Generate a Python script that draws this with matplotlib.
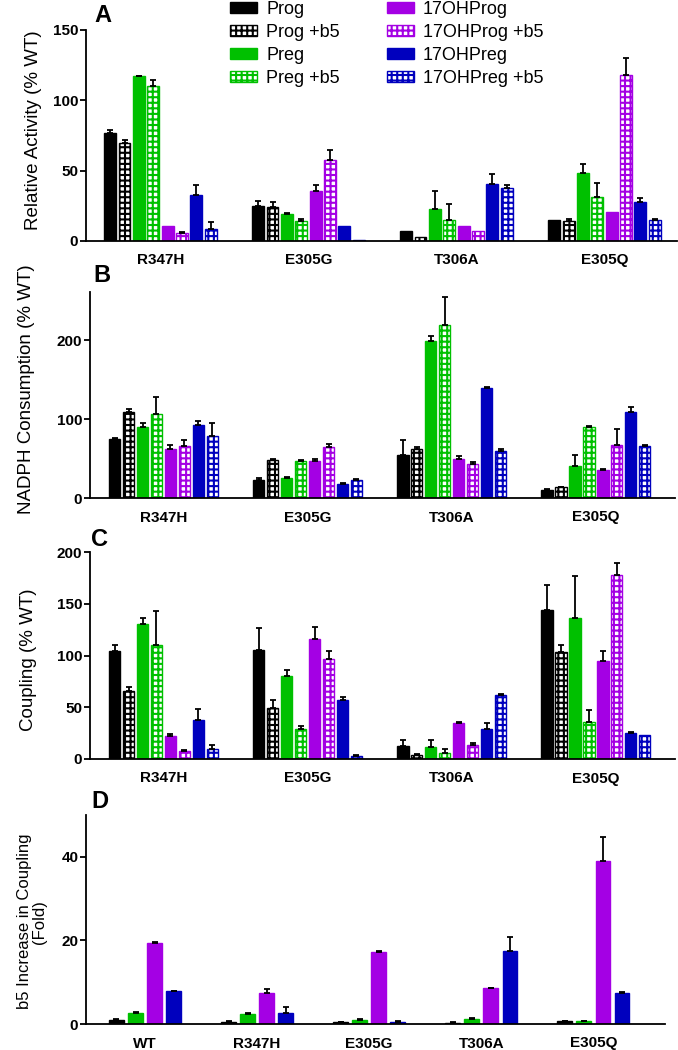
import numpy as np
import matplotlib
matplotlib.use("Agg")
import matplotlib.pyplot as plt
from matplotlib.font_manager import FontProperties

# ---------------- data ----------------
series = ["Prog", "Prog +b5", "Preg", "Preg +b5",
          "17OHProg", "17OHProg +b5", "17OHPreg", "17OHPreg +b5"]
mutants = ["R347H", "E305G", "T306A", "E305Q"]
mutants_d = ["WT", "R347H", "E305G", "T306A", "E305Q"]

# Panel A: Relative Activity (% WT)
a_prog      = [77, 25, 7, 15]
a_prog_b5   = [70, 24, 3, 14.5]
a_preg      = [117, 19.5, 22.5, 48]
a_preg_b5   = [110, 14, 15, 31.5]
a_ohprog    = [11, 35.5, 11, 20.5]
a_ohprog_b5 = [5.5, 57.5, 7, 118]
a_ohpreg    = [33, 11, 40.5, 27.5]
a_ohpreg_b5 = [8.5, 1, 38, 15]
a_err = [[2, 3.5, 0, 0], [1.5, 4, 0, 0.8], [0.5, 0.5, 13, 6.5], [4.5, 1.5, 11, 9.5],
         [0, 4.5, 0, 0], [0.8, 7, 0, 12], [7, 0, 7, 3], [5, 0, 1.5, 0.8]]

# Panel B: NADPH Consumption (% WT)
b_prog      = [75, 23, 55, 10]
b_prog_b5   = [109, 48, 62, 14]
b_preg      = [90, 25, 199, 41]
b_preg_b5   = [106, 47, 219, 90]
b_ohprog    = [62, 47, 50, 35]
b_ohprog_b5 = [66, 64, 43, 67]
b_ohpreg    = [92, 18, 140, 109]
b_ohpreg_b5 = [79, 23, 60, 66]
b_err = [[1.5, 2, 19, 1], [4, 1, 3, 0.5], [5, 2, 6, 13], [22, 1.5, 36, 1],
         [5, 3, 3, 2], [7, 5, 2, 20], [5, 1, 1, 6], [16, 0.5, 2, 1.5]]

# Panel C: Coupling (% WT)
c_prog      = [104, 105, 13, 144]
c_prog_b5   = [66, 49, 4, 103]
c_preg      = [130, 80, 12, 136]
c_preg_b5   = [110, 29, 6, 36]
c_ohprog    = [22, 116, 35, 95]
c_ohprog_b5 = [8, 97, 14, 178]
c_ohpreg    = [38, 57, 29, 25]
c_ohpreg_b5 = [10, 3, 62, 23]
c_err = [[6, 22, 5, 24], [4, 8, 1, 7], [6, 6, 6, 41], [33, 3, 4, 11],
         [2, 12, 1, 9], [1, 7, 1, 11], [10, 3, 6, 1], [4, 0.5, 1, 0]]

# Panel D: b5 increase in coupling (fold)
d_series = ["Prog", "Preg", "17OHProg", "17OHPreg"]
d_prog   = [1.0, 0.5, 0.4, 0.3, 0.7]
d_preg   = [2.6, 2.3, 1.0, 1.3, 0.7]
d_ohprog = [19.4, 7.3, 17.2, 8.5, 38.9]
d_ohpreg = [7.8, 2.6, 0.5, 17.4, 7.3]
d_err = [[0.2, 0.1, 0.1, 0.1, 0.1], [0.2, 0.3, 0.1, 0.2, 0.1],
         [0.2, 1.1, 0.3, 0.1, 5.8], [0.1, 1.5, 0.1, 3.3, 0.3]]

BLACK, GREEN, PURPLE, BLUE = "#000000", "#00C000", "#A400E4", "#0000BE"
colors8 = [BLACK, BLACK, GREEN, GREEN, PURPLE, PURPLE, BLUE, BLUE]
checker8 = [False, True] * 4
colors4 = [BLACK, GREEN, PURPLE, BLUE]

plt.rcParams["hatch.linewidth"] = 1.5
plt.rcParams["font.family"] = ["Liberation Sans", "DejaVu Sans"]
TICKFONT = dict(family=["Liberation Sans Narrow", "Liberation Sans", "DejaVu Sans"],
                weight="bold", size=11)

fig = plt.figure(figsize=(6.78, 10.5), dpi=100)
W, H = 678.0, 1050.0


def add_ax(l, r, t, b):
    return fig.add_axes([l / W, 1 - b / H, (r - l) / W, (b - t) / H])


def style(ax, ylim, yticks, xlabels, xlim):
    ax.set_ylim(*ylim)
    ax.set_xlim(*xlim)
    ax.set_yticks(yticks)
    ax.set_xticks(range(len(xlabels)))
    ax.set_xticklabels(xlabels)
    for s in ("top", "right"):
        ax.spines[s].set_visible(False)
    for s in ("left", "bottom"):
        ax.spines[s].set_linewidth(1.3)
    ax.tick_params(axis="x", length=0, pad=9)
    ax.tick_params(axis="y", length=4, width=1.3, pad=1.5)
    for lab in ax.get_xticklabels() + ax.get_yticklabels():
        lab.set_fontproperties(FontProperties(**TICKFONT))


def draw_groups(ax, vals, errs, colors, checks, labels, step, width):
    n = len(vals)
    x = np.arange(len(vals[0]))
    handles = []
    for i in range(n):
        xi = x + (i - (n - 1) / 2) * step
        if checks[i]:
            h = ax.bar(xi, vals[i], width, facecolor="white", edgecolor=colors[i],
                       hatch="+++", linewidth=1.0, label=labels[i], zorder=2)
        else:
            h = ax.bar(xi, vals[i], width, color=colors[i], edgecolor=colors[i],
                       linewidth=1.0, label=labels[i], zorder=2)
        handles.append(h)
        e = np.asarray(errs[i], dtype=float)
        v = np.asarray(vals[i], dtype=float)
        m = e > 0
        if m.any():
            ax.errorbar(xi[m], v[m], yerr=[np.zeros(m.sum()), e[m]], fmt="none",
                        ecolor="black", elinewidth=1.3, capsize=2.2, capthick=1.3,
                        zorder=3)
    return handles


# ---------- Panel A ----------
axA = add_ax(86, 677, 30, 241)
valsA = [a_prog, a_prog_b5, a_preg, a_preg_b5, a_ohprog, a_ohprog_b5, a_ohpreg, a_ohpreg_b5]
hA = draw_groups(axA, valsA, a_err, colors8, checker8, series, 0.097, 0.08)
style(axA, (0, 150), [0, 50, 100, 150], mutants, (-0.503, 3.49))
axA.set_ylabel("Relative Activity (% WT)", fontsize=13.5)
axA.yaxis.set_label_coords(-0.074, 0.526)

leg = fig.legend(handles=hA, labels=series, ncol=2, loc="upper left",
                 bbox_to_anchor=(230 / W, 1 - 1 / H), frameon=False, fontsize=13,
                 handlelength=1.5, handleheight=0.6, handletextpad=0.5,
                 labelspacing=0.33, columnspacing=2.6, borderpad=0.0,
                 borderaxespad=0.0)

# ---------- Panel B ----------
axB = add_ax(90, 675, 292, 498)
valsB = [b_prog, b_prog_b5, b_preg, b_preg_b5, b_ohprog, b_ohprog_b5, b_ohpreg, b_ohpreg_b5]
draw_groups(axB, valsB, b_err, colors8, checker8, series, 0.097, 0.08)
style(axB, (0, 261), [0, 100, 200], mutants, (-0.51, 3.55))
axB.set_ylabel("NADPH Consumption (% WT)", fontsize=13.5)
axB.yaxis.set_label_coords(-0.094, 0.53)

# ---------- Panel C ----------
axC = add_ax(90, 675, 552, 759)
valsC = [c_prog, c_prog_b5, c_preg, c_preg_b5, c_ohprog, c_ohprog_b5, c_ohpreg, c_ohpreg_b5]
draw_groups(axC, valsC, c_err, colors8, checker8, series, 0.097, 0.08)
style(axC, (0, 200), [0, 50, 100, 150, 200], mutants, (-0.51, 3.55))
axC.set_ylabel("Coupling (% WT)", fontsize=13.5)
axC.yaxis.set_label_coords(-0.091, 0.48)

# ---------- Panel D ----------
axD = add_ax(86, 665, 815, 1024)
valsD = [d_prog, d_preg, d_ohprog, d_ohpreg]
draw_groups(axD, valsD, d_err, colors4, [False] * 4, d_series, 0.17, 0.13)
style(axD, (0, 50), [0, 20, 40], mutants_d, (-0.527, 4.64))
axD.set_ylabel("b5 Increase in Coupling\n(Fold)", fontsize=12, linespacing=1.0)
axD.yaxis.set_label_coords(-0.067, 0.49)

# panel letters
LETTERFONT = dict(family=["Liberation Sans Narrow", "Liberation Sans", "DejaVu Sans"],
                  weight="bold", size=17, ha="center", va="center")
for letter, (px, py) in zip("ABCD", [(103, 15), (102, 276), (100, 540), (100, 802)]):
    fig.text(px / W, 1 - py / H, letter, **LETTERFONT)

fig.savefig("out.png", dpi=100)
